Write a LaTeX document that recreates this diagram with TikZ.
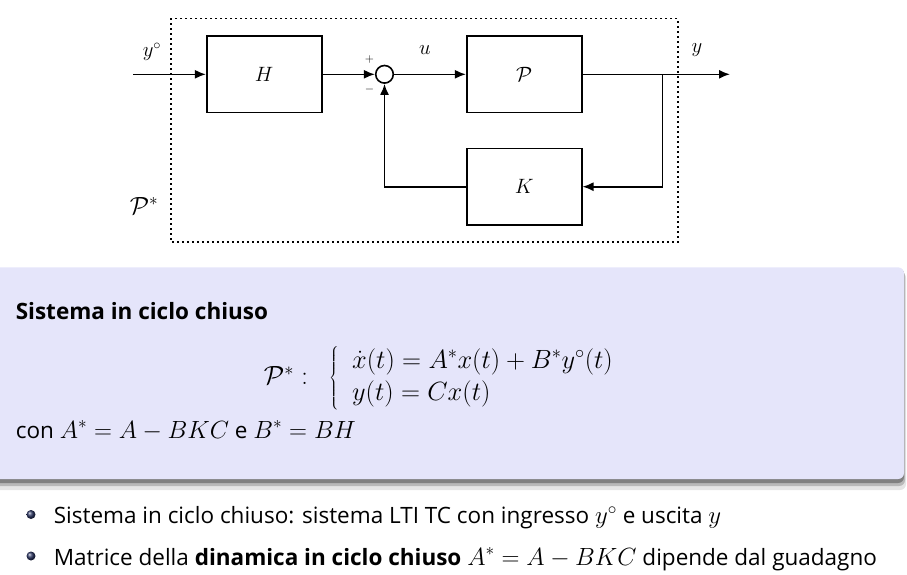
\documentclass[tikz,border=0pt]{standalone}
\usepackage{graphicx}
\usepackage{fontspec}
\setmainfont{Open Sans}
\usetikzlibrary{arrows.meta}
\definecolor{panel}{RGB}{229,229,250}
\definecolor{bulletc}{RGB}{45,55,100}
\newcommand{\mymath}[1]{{\fontsize{25}{30}\selectfont$#1$}}
\begin{document}
\begin{tikzpicture}[x=1pt,y=-1pt,line width=1.6pt,>={Latex[length=11pt,width=9pt]}]
\tikzset{
  blk/.style={draw,minimum width=115pt,minimum height=76.7pt,inner sep=0pt,font=\fontsize{20.5}{24}\selectfont},
  lbl/.style={inner sep=0pt,font=\fontsize{20.5}{24}\selectfont},
  sgn/.style={inner sep=0pt,font=\fontsize{13}{15}\selectfont},
  txt/.style={inner sep=0pt,anchor=base west,font=\fontsize{22.5}{27}\selectfont},
  bul/.style={ball color=bulletc,shading=ball,draw=none,circle,minimum size=9pt,inner sep=0pt}
}
\useasboundingbox (0,0) rectangle (907,574);
% diagram
\node[blk] (H) at (264.2,74.3) {$H$};
\node[blk] (P) at (524.2,74.3) {$\mathcal{P}$};
\node[blk] (K) at (524.2,186.7) {$K$};
\node[draw,circle,minimum size=17.6pt,inner sep=0pt] (S) at (384.5,74.3) {};
\coordinate (in) at (133.3,74.3);
\coordinate (out) at (730,74.3);
\coordinate (br) at (662.3,74.3);
\draw[->] (in) -- (H);
\draw[->] (H) -- (S);
\draw[->] (S) -- (P);
\draw[->] (P) -- (out);
\draw[->] (br) |- (K);
\draw[->] (K) -| (S);
\draw[dash pattern=on 2pt off 3pt] (170.7,18.3) rectangle (677.7,242);
\node[lbl] (yo) at (152,52) {$y^\circ$};
\node[lbl] (u) at (425,50) {$u$};
\node[lbl] (y) at (697,50) {$y$};
\node[sgn] (plus) at (369.5,59.5) {$+$};
\node[sgn] (minus) at (369.5,89) {$-$};
\node[lbl,font=\fontsize{23}{27}\selectfont] (Ps) at (144,206) {$\mathcal{P}^*$};
% panel
\fill[rounded corners=6pt,black!10] (-10,272) rectangle (906,490);
\fill[rounded corners=6pt,black!28] (-10,270) rectangle (905,486);
\fill[rounded corners=6pt,black!50] (-10,268) rectangle (904,483);
\fill[rounded corners=6pt,panel] (-10,267.3) rectangle (904,479);
\node[txt,font=\fontsize{22.5}{27}\selectfont\bfseries] (title) at (15,319) {Sistema in ciclo chiuso};
\node[inner sep=0pt,anchor=west,font=\fontsize{25}{30}\selectfont] (eq) at (263,378) {\scalebox{1.06}{$\mathcal{P}^*:\ \ \left\{\ \ \begin{array}{@{}l@{}}\dot{x}(t)=A^*x(t)+B^*y^\circ(t)\\ y(t)=Cx(t)\end{array}\right.$}};
\node[txt] (con) at (15,438) {con \mymath{A^*=A-BKC} e \mymath{B^*=BH}};
% bullets
\node[bul] (b1) at (31,514.5) {};
\node[bul] (b2) at (31,556) {};
\node[txt] (t1) at (53,523.5) {Sistema in ciclo chiuso: sistema LTI TC con ingresso \mymath{y^\circ} e uscita \mymath{y}};
\node[txt] (t2) at (53,565) {Matrice della \textbf{dinamica in ciclo chiuso} \mymath{A^*=A-BKC} dipende dal guadagno};
\end{tikzpicture}
\end{document}
